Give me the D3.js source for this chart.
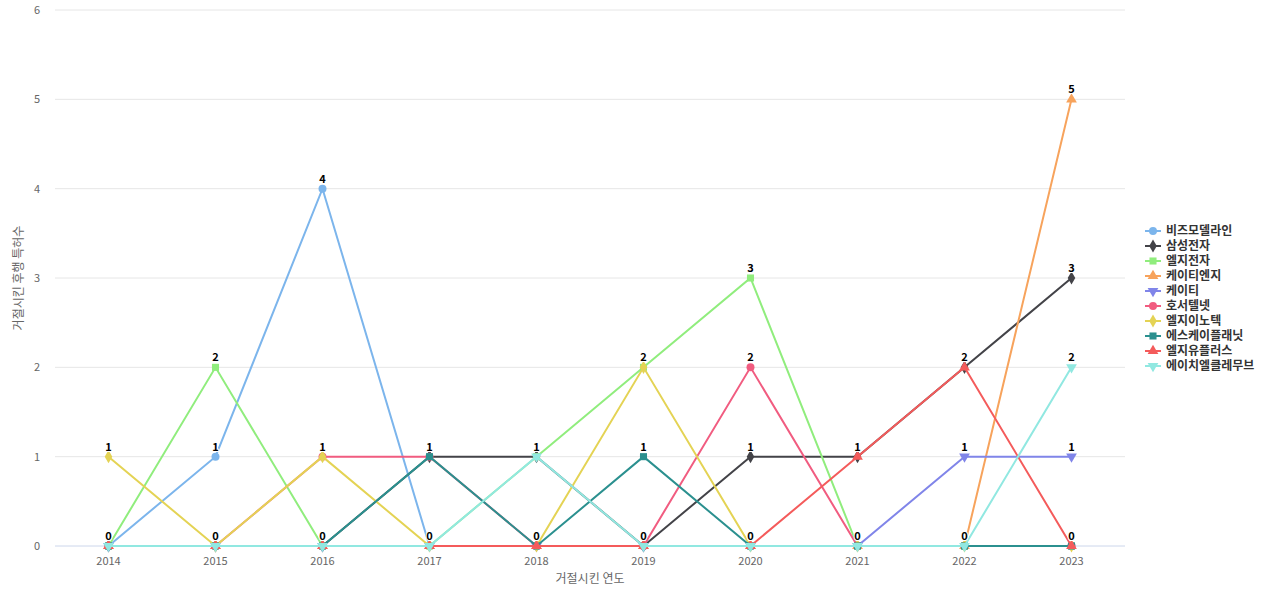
<!DOCTYPE html>
<html><head><meta charset="utf-8">
<script src="https://cdn.jsdelivr.net/npm/d3@7"></script>
<style>body{margin:0;background:#fff;font-family:"Noto Sans CJK KR","Noto Sans",sans-serif}</style>
</head><body><svg id="c" width="1280" height="600"></svg>
<script>
const years = [2014,2015,2016,2017,2018,2019,2020,2021,2022,2023];
const names = ['비즈모델라인','삼성전자','엘지전자','케이티엔지','케이티','호서텔넷','엘지이노텍','에스케이플래닛','엘지유플러스','에이치엘클레무브'];
const values = [
  [0,1,4,0,0,0,0,0,0,0],
  [0,0,0,1,1,0,1,1,2,3],
  [0,2,0,0,1,2,3,0,0,0],
  [0,0,0,0,0,0,0,0,0,5],
  [0,0,0,0,0,0,0,0,1,1],
  [0,0,1,1,0,0,2,0,0,0],
  [1,0,1,0,0,2,0,0,0,0],
  [0,0,0,1,0,1,0,0,0,0],
  [0,0,0,0,0,0,0,1,2,0],
  [0,0,0,0,1,0,0,0,0,2]
];
const colors = ['#7cb5ec','#434348','#90ed7d','#f7a35c','#8085e9','#f15c80','#e4d354','#2b908f','#f45b5b','#91e8e1'];
const symbols = [d3.symbolCircle,d3.symbolDiamond,d3.symbolSquare,d3.symbolTriangle,'down'];
const yTicks = [0,1,2,3,4,5,6];

const svg = d3.select('#c');
const m = {l:55, r:1125, t:10, b:546};
const x = d3.scalePoint().domain(years).range([m.l, m.r]).padding(0.5);
const y = d3.scaleLinear().domain([0,6]).range([m.b, m.t]);

svg.append('g').selectAll('line').data(yTicks).join('line')
  .attr('x1', m.l).attr('x2', m.r).attr('y1', d => y(d)).attr('y2', d => y(d))
  .attr('stroke', d => d === 0 ? '#ccd6eb' : '#e6e6e6');
svg.append('g').selectAll('text').data(yTicks).join('text')
  .attr('x', 40).attr('y', d => y(d) + 4).attr('text-anchor','end')
  .attr('font-size', 11).attr('fill', '#666').text(d => d);
svg.append('g').selectAll('text').data(years).join('text')
  .attr('x', d => x(d)).attr('y', 565).attr('text-anchor','middle')
  .attr('font-size', 11).attr('fill', '#666').text(d => d);
svg.append('text').attr('x', 590).attr('y', 583).attr('text-anchor','middle')
  .attr('font-size', 12).attr('fill', '#666').text('거절시킨 연도');
svg.append('text').attr('transform','translate(23,278) rotate(-90)').attr('text-anchor','middle')
  .attr('font-size', 12).attr('fill', '#666').text('거절시킨 후행 특허수');

const line = d3.line().x((d,i) => x(years[i])).y(d => y(d));
const sym = (i, size) => {
  const s = symbols[i % 5];
  if (s === 'down') return d3.symbol(d3.symbolTriangle, size)();
  return d3.symbol(s, size)();
};
const rot = i => symbols[i % 5] === 'down' ? ' rotate(180)' : '';

values.forEach((vals, i) => {
  const g = svg.append('g');
  g.append('path').attr('d', line(vals)).attr('fill','none')
    .attr('stroke', colors[i]).attr('stroke-width', 2);
  g.selectAll('path.m').data(vals).join('path').attr('class','m')
    .attr('transform', (d,j) => `translate(${x(years[j])},${y(d)})${rot(i)}`)
    .attr('d', sym(i, 50)).attr('fill', colors[i]);
});

// data labels, one per position
const seen = new Set();
const labels = [];
values.forEach(vals => vals.forEach((v,j) => {
  const k = j + '_' + v;
  if (!seen.has(k)) { seen.add(k); labels.push({j, v}); }
}));
svg.append('g').selectAll('text').data(labels).join('text')
  .attr('x', d => x(years[d.j])).attr('y', d => y(d.v) - 6).attr('text-anchor','middle')
  .attr('font-size', 11).attr('font-weight','bold').attr('fill','#000')
  .attr('stroke','#fff').attr('stroke-width',2).attr('paint-order','stroke')
  .text(d => d.v);

const lg = svg.append('g').attr('transform','translate(1145,231)');
names.forEach((n,i) => {
  const r = lg.append('g').attr('transform', `translate(0,${i*15})`);
  r.append('line').attr('x1',0).attr('x2',16).attr('stroke',colors[i]).attr('stroke-width',2);
  r.append('path').attr('transform',`translate(8,0)${rot(i)}`).attr('d', sym(i, 50)).attr('fill', colors[i]);
  r.append('text').attr('x', 21).attr('y', 4).attr('font-size', 12).attr('font-weight','bold')
    .attr('fill','#333').text(n);
});
</script></body></html>
